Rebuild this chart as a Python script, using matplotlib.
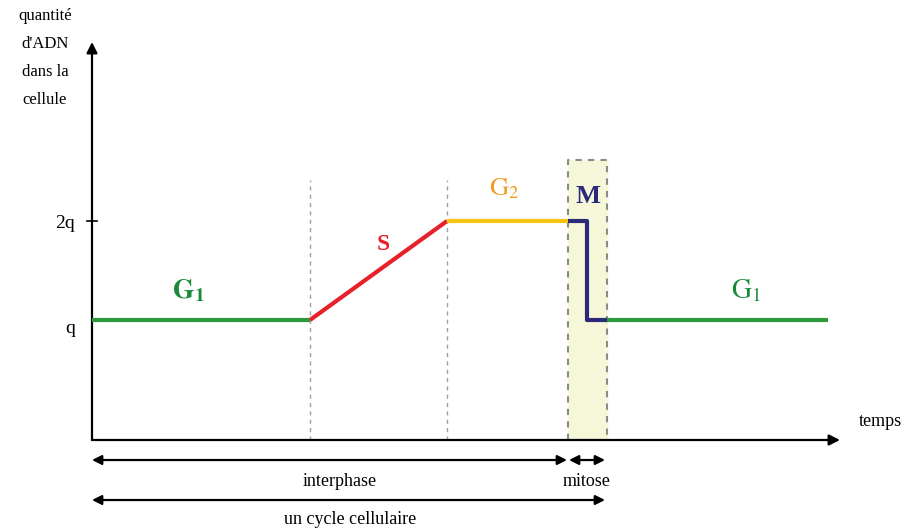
import matplotlib
matplotlib.use("Agg")
import matplotlib.pyplot as plt

# time points (arbitrary units) for the phases of the cycle
t_s_start = 21.8
t_s_end = 35.5
t_m_start = 47.6
t_m_drop = 49.5
t_m_end = 51.5
t_end = 73.6

# DNA levels
q = 1.0
q2 = 2.0

g1_t = [0, t_s_start]
g1_y = [q, q]
s_t = [t_s_start, t_s_end]
s_y = [q, q2]
g2_t = [t_s_end, t_m_start]
g2_y = [q2, q2]
m_t = [t_m_start, t_m_drop, t_m_drop, t_m_end]
m_y = [q2, q2, q, q]
g1b_t = [t_m_end, t_end]
g1b_y = [q, q]

tick_vals = [q, q2]
tick_labels = ["q", "2q"]

plt.rcParams['font.family'] = ['Liberation Serif', 'DejaVu Serif']
plt.rcParams['mathtext.fontset'] = 'stix'

fig = plt.figure(figsize=(9.1, 5.3), dpi=100)
ax = fig.add_axes([92/910, 90/530, 748/910, 398/530])
ax.set_xlim(0, 74.8)
ax.set_ylim(-0.212, 3.808)
for sp in ax.spines.values():
    sp.set_visible(False)
ax.set_xticks([])
ax.set_yticks(tick_vals, tick_labels, fontsize=14)
ax.tick_params(axis='y', length=0, pad=12)
ax.get_yticklabels()[0].set_va('top')

# axes arrows
ax.annotate("", xy=(1, 0), xytext=(0, 0), xycoords='axes fraction',
            arrowprops=dict(arrowstyle='-|>', color='black', lw=1.6,
                            mutation_scale=16, shrinkA=0, shrinkB=0))
ax.annotate("", xy=(0, 1), xytext=(0, 0), xycoords='axes fraction',
            arrowprops=dict(arrowstyle='-|>', color='black', lw=1.6,
                            mutation_scale=16, shrinkA=0, shrinkB=0))

# mitosis box
top_box = q2 + 0.616
ax.fill_between([t_m_start, t_m_end], -0.212, top_box, color='#f6f6d8', zorder=0)
ax.plot([t_m_start, t_m_start, t_m_end, t_m_end], [-0.212, top_box, top_box, -0.212],
        color='#8a8a8a', ls=(0, (3, 3)), lw=1.5, zorder=1)

# dashed separators
top_sep = q2 + 0.414
for t in [t_s_start, t_s_end]:
    ax.plot([t, t], [-0.212, top_sep], color='#a0a0a0', ls=(0, (3, 3)), lw=1, zorder=1)

# curve
ax.plot(g1_t, g1_y, color='#2a9a3c', lw=3, solid_capstyle='butt', zorder=3)
ax.plot(s_t, s_y, color='#e8202a', lw=3, solid_capstyle='butt', zorder=3)
ax.plot(g2_t, g2_y, color='#f7c415', lw=3, solid_capstyle='butt', zorder=3)
ax.plot(m_t, m_y, color='#2b2a7a', lw=3, solid_capstyle='butt', zorder=4)
ax.plot(g1b_t, g1b_y, color='#2a9a3c', lw=3, solid_capstyle='butt', zorder=3)

# small tick at 2q
ax.plot([-0.5, 0.5], [q2, q2], color='black', lw=1.2, clip_on=False)

# phase labels
ax.text(9.6, q + 0.3, r"$\mathbf{G_1}$", color='#1a8a3a', fontsize=20, ha='center', va='center')
ax.text(29.1, q2 - 0.24, "S", color='#e8202a', fontsize=17, fontweight='bold', ha='center', va='center')
ax.text(41.2, q2 + 0.33, r"$\mathrm{G_2}$", color='#f39a1c', fontsize=19, ha='center', va='center')
ax.text(49.6, q2 + 0.25, "M", color='#2b2a7a', fontsize=19, fontweight='bold', ha='center', va='center')
ax.text(65.4, q + 0.3, r"$\mathrm{G_1}$", color='#1a8a3a', fontsize=20, ha='center', va='center')

# axis titles
fig.text(45/910, 1 - 58/530, "quantité\nd'ADN\ndans la\ncellule", fontsize=12,
         ha='center', va='center', linespacing=2.0)
fig.text(880/910, 1 - 421/530, "temps", fontsize=13, ha='center', va='center')

# bottom brackets
tr = ax.get_xaxis_transform()
def double_arrow(x0, x1, y):
    ax.annotate("", xy=(x1, y), xytext=(x0, y), xycoords=tr, annotation_clip=False,
                arrowprops=dict(arrowstyle='<|-|>', color='black', lw=1.6,
                                mutation_scale=14, shrinkA=0, shrinkB=0))

double_arrow(0, t_m_start - 0.1, -0.0503)
double_arrow(t_m_start + 0.1, t_m_end - 0.2, -0.0503)
double_arrow(0, t_m_end - 0.2, -0.1508)
ax.text(24.8, -0.1055, "interphase", transform=tr, fontsize=13, ha='center', va='center')
ax.text(49.5, -0.1055, "mitose", transform=tr, fontsize=13, ha='center', va='center')
ax.text(25.8, -0.2010, "un cycle cellulaire", transform=tr, fontsize=13, ha='center', va='center')

fig.savefig("out.png", dpi=100)
